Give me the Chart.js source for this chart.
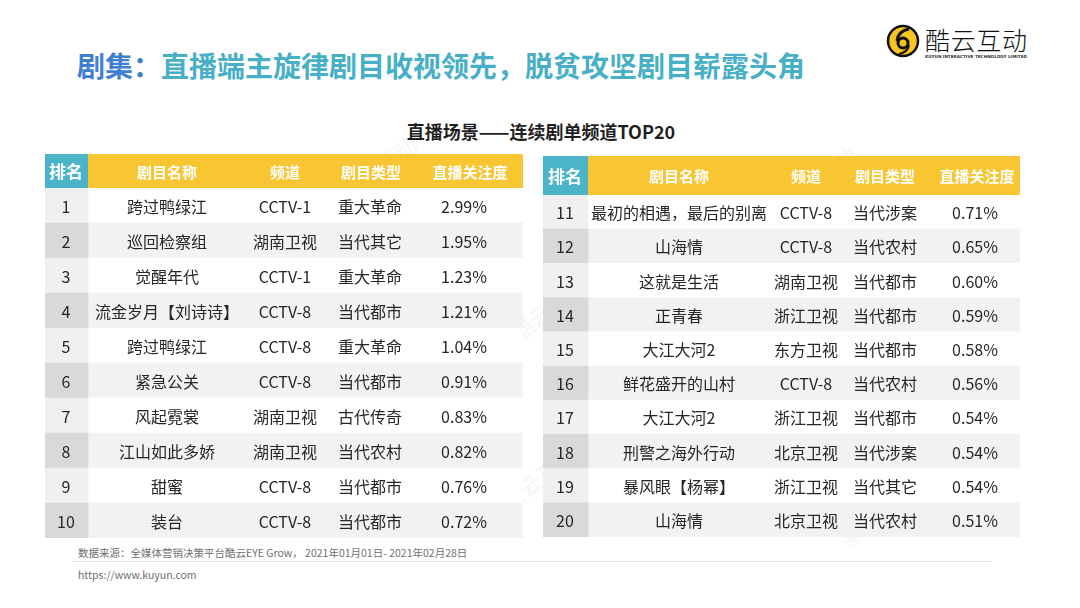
<!DOCTYPE html>
<html>
<head>
<meta charset="utf-8">
<script src="https://cdn.jsdelivr.net/npm/chart.js@4.4.1/dist/chart.umd.min.js"></script>
<style>
  body { margin: 0; width: 1080px; height: 608px; background: #fff; position: relative; overflow: hidden;
         font-family: "Noto Sans CJK SC", "Noto Sans", sans-serif; }
  #title { position: absolute; left: 77px; top: 45px; font-size: 28px; font-weight: 700;
           color: #47b0c6; white-space: nowrap; line-height: 40px; }
  #title .lead { color: #3f7fd0; }
  #subtitle { position: absolute; left: 0; width: 1082px; top: 119px; text-align: center; font-size: 18px;
              font-weight: 700; color: #1f1f1f; line-height: 24px; }
  #logo { position: absolute; left: 884px; top: 22px; }
  canvas { position: absolute; }
  #left { left: 45px; top: 154px; }
  #right { left: 543px; top: 156px; }
  .note { position: absolute; left: 78px; font-size: 10.5px; color: #707070; white-space: nowrap; }
  #rule { position: absolute; left: 72px; top: 561px; width: 920px; height: 1px; background: #e3e3e3; }
  .wm { position: absolute; font-size: 22px; font-weight: 700; color: rgba(0,0,0,0.05);
        transform: rotate(-38deg); white-space: nowrap; }
</style>
</head>
<body>
<div id="title"><span class="lead">剧集：</span>直播端主旋律剧目收视领先，脱贫攻坚剧目崭露头角</div>
<svg id="logo" width="160" height="44" viewBox="0 0 160 44">
  <circle cx="19" cy="19" r="15" fill="#f7c520" stroke="#111" stroke-width="2.5"/>
  <circle cx="19" cy="21" r="5" fill="none" stroke="#111" stroke-width="3"/>
  <path d="M13 19 Q14 9 25 7" fill="none" stroke="#111" stroke-width="3"/>
  <path d="M25 23 Q24 30 15 32" fill="none" stroke="#111" stroke-width="2"/>
  <text x="41" y="28" font-size="25" font-family="Noto Sans CJK SC" font-weight="300" fill="#111" textLength="102">酷云互动</text>
  <text x="41" y="36" font-size="4.2" font-family="DejaVu Sans" font-weight="700" fill="#333" textLength="102">KUYUN INTERACTIVE TECHNOLOGY LIMITED</text>
</svg>
<div id="subtitle">直播场景——连续剧单频道TOP20</div>

<div class="wm" style="left:310px;top:160px;">◉ 酷云互动</div>
<div class="wm" style="left:480px;top:300px;">◉ 酷云互动</div>
<div class="wm" style="left:120px;top:470px;">◉ 酷云互动</div>
<div class="wm" style="left:470px;top:470px;">◉ 酷云互动</div>
<div class="wm" style="left:750px;top:170px;">◉ 酷云互动</div>
<div class="wm" style="left:900px;top:280px;">◉ 酷云互动</div>
<div class="wm" style="left:830px;top:490px;">◉ 酷云互动</div>

<canvas id="left" width="478" height="384"></canvas>
<canvas id="right" width="477" height="381"></canvas>

<div class="note" style="top:545px;">数据来源：全媒体营销决策平台酷云EYE Grow， 2021年01月01日- 2021年02月28日</div>
<div id="rule"></div>
<div class="note" style="top:567px;">https://www.kuyun.com</div>

<script>
const headers = ["排名", "剧目名称", "频道", "剧目类型", "直播关注度"];

const leftRanks = ["1", "2", "3", "4", "5", "6", "7", "8", "9", "10"];
const leftNames = ["跨过鸭绿江", "巡回检察组", "觉醒年代", "流金岁月【刘诗诗】", "跨过鸭绿江",
                   "紧急公关", "风起霓裳", "江山如此多娇", "甜蜜", "装台"];
const leftChannels = ["CCTV-1", "湖南卫视", "CCTV-1", "CCTV-8", "CCTV-8",
                      "CCTV-8", "湖南卫视", "湖南卫视", "CCTV-8", "CCTV-8"];
const leftGenres = ["重大革命", "当代其它", "重大革命", "当代都市", "重大革命",
                    "当代都市", "古代传奇", "当代农村", "当代都市", "当代都市"];
const leftValues = [2.99, 1.95, 1.23, 1.21, 1.04, 0.91, 0.83, 0.82, 0.76, 0.72];

const rightRanks = ["11", "12", "13", "14", "15", "16", "17", "18", "19", "20"];
const rightNames = ["最初的相遇，最后的别离", "山海情", "这就是生活", "正青春", "大江大河2",
                    "鲜花盛开的山村", "大江大河2", "刑警之海外行动", "暴风眼【杨幂】", "山海情"];
const rightChannels = ["CCTV-8", "CCTV-8", "湖南卫视", "浙江卫视", "东方卫视",
                       "CCTV-8", "浙江卫视", "北京卫视", "浙江卫视", "北京卫视"];
const rightGenres = ["当代涉案", "当代农村", "当代都市", "当代都市", "当代都市",
                     "当代农村", "当代都市", "当代涉案", "当代其它", "当代农村"];
const rightValues = [0.71, 0.65, 0.60, 0.59, 0.58, 0.56, 0.54, 0.54, 0.54, 0.51];

// draws header band and cell texts on top of the row bars
const tableText = {
  id: "tableText",
  afterDatasetsDraw(chart, args, opts) {
    const { ctx, chartArea } = chart;
    const x = chart.scales.x, y = chart.scales.y;
    const x0 = x.getPixelForValue(0);
    const xr = x.getPixelForValue(opts.rankW);
    const x1 = x.getPixelForValue(opts.width);
    const top = chartArea.top - opts.headH;
    ctx.save();
    ctx.fillStyle = "#4cb4c9";
    ctx.fillRect(x0, top, xr - x0, opts.headH);
    ctx.fillStyle = "#f8c633";
    ctx.fillRect(xr, top, x1 - xr, opts.headH);

    ctx.textAlign = "center";
    ctx.textBaseline = "middle";
    ctx.fillStyle = "#ffffff";
    headers.forEach((h, c) => {
      ctx.font = c === 0 ? "700 17px 'Noto Sans CJK SC'" : "700 15px 'Noto Sans CJK SC'";
      ctx.fillText(h, x.getPixelForValue(opts.headCenters[c]), top + opts.headH / 2 + 1);
    });

    ctx.fillStyle = "#262626";
    ctx.font = "400 16px 'Noto Sans CJK SC'";
    opts.columns.forEach((col, c) => {
      col.forEach((txt, i) => {
        ctx.fillText(txt, x.getPixelForValue(opts.centers[c]), y.getPixelForValue(i) + 1);
      });
    });
    ctx.restore();
  }
};

function makeTable(id, ranks, names, channels, genres, values, layout) {
  const pct = values.map(v => v.toFixed(2) + "%");
  return new Chart(document.getElementById(id), {
    type: "bar",
    data: {
      labels: ranks,
      datasets: [
        {
          data: ranks.map(() => [0, layout.rankW]),
          backgroundColor: ranks.map((r, i) => i % 2 ? "#d9d9d9" : "#f0f0f0"),
          grouped: false, barPercentage: 1, categoryPercentage: 1
        },
        {
          data: ranks.map(() => [layout.rankW, layout.width]),
          backgroundColor: ranks.map((r, i) => i % 2 ? "#f2f2f2" : "#ffffff"),
          grouped: false, barPercentage: 1, categoryPercentage: 1
        }
      ]
    },
    options: {
      indexAxis: "y",
      responsive: false,
      animation: false,
      events: [],
      layout: { padding: { top: layout.headH } },
      scales: {
        x: { type: "linear", min: 0, max: layout.width, display: false },
        y: { display: false }
      },
      plugins: {
        legend: { display: false },
        tooltip: { enabled: false },
        tableText: {
          width: layout.width,
          rankW: layout.rankW,
          headH: layout.headH,
          centers: layout.centers,
          headCenters: layout.headCenters,
          columns: [ranks, names, channels, genres, pct]
        }
      }
    },
    plugins: [tableText]
  });
}

makeTable("left", leftRanks, leftNames, leftChannels, leftGenres, leftValues,
  { width: 478, rankW: 43, headH: 34, centers: [21, 122, 240, 325, 419], headCenters: [21, 122, 240, 326, 425] });
makeTable("right", rightRanks, rightNames, rightChannels, rightGenres, rightValues,
  { width: 477, rankW: 45, headH: 39, centers: [22, 136, 263, 342, 432], headCenters: [22, 136, 263, 342, 434] });
</script>
</body>
</html>
